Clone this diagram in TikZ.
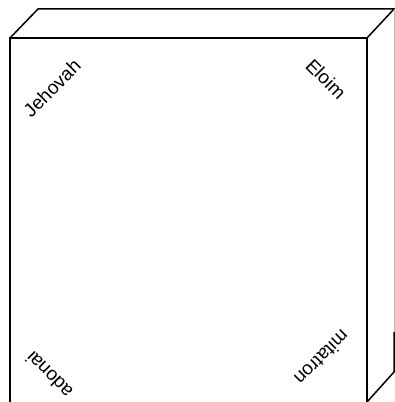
\documentclass[tikz,border=0pt]{standalone}
\usepackage{fontspec}
\setmainfont{Liberation Sans}
\begin{document}
\begin{tikzpicture}[x=1pt,y=1pt,
  edge/.style={line width=1.5pt,line join=miter},
  faint/.style={line width=0.6pt,gray!50},
  word/.style={font=\fontsize{19}{21}\selectfont,inner sep=0pt}]
\useasboundingbox (0,0) rectangle (395,402);
% front face
\draw[edge] (10,-2) -- (10,364) -- (367,364) -- (367,-2);
% top face
\draw[edge] (10,364) -- (38,393) -- (394,393) -- (367,364);
% right face
\draw[faint] (394,393) -- (394,70);
\draw[edge] (394,70) -- (394,30) -- (367,0);
% texts
\node[word,rotate=45] (j) at (52,314) {Jehovah};
\node[word,rotate=-45] (e) at (326,323) {Eloim};
\node[word,rotate=135] (a) at (49,27) {adonai};
\node[word,rotate=225] (m) at (322,44) {mitatron};
\end{tikzpicture}
\end{document}
